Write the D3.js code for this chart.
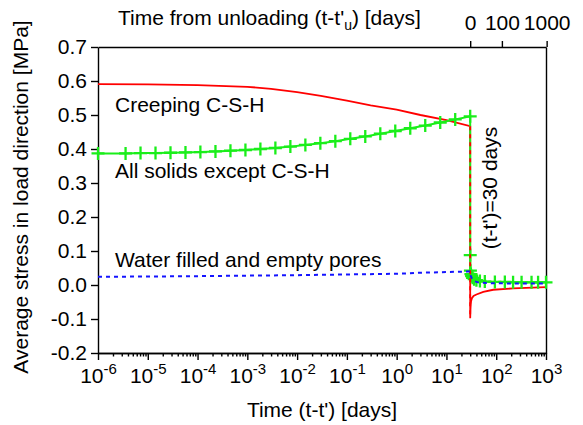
<!DOCTYPE html>
<html>
<head>
<meta charset="utf-8">
<script src="https://cdn.jsdelivr.net/npm/d3@7"></script>
<style>
  body { margin: 0; background: #fff; }
  svg { font-family: "Liberation Sans", Arial, Helvetica, sans-serif; }
</style>
</head>
<body>
<div id="chart"></div>
<script>
// axis ticks
var majorTicks = [1e-6, 1e-5, 1e-4, 1e-3, 1e-2, 1e-1, 1e0, 1e1, 1e2, 1e3];
var exponents = ["-6", "-5", "-4", "-3", "-2", "-1", "0", "1", "2", "3"];
var yTicks = [-0.2, -0.1, 0.0, 0.1, 0.2, 0.3, 0.4, 0.5, 0.6, 0.7];
var topTicks = [0, 100, 1000];   // time from unloading (t-t'u)
var unloadAt = 30;               // (t-t') at unloading, days

// Creeping C-S-H (red)
var redT = [1e-6, 1e-5, 1e-4, 1e-3, 3e-3, 1e-2, 3e-2, 0.1, 0.3, 1, 3, 10, 30];
var redV = [0.591, 0.590, 0.588, 0.583, 0.577, 0.567, 0.556, 0.542, 0.528, 0.516, 0.500, 0.485, 0.467];
var redPostT = [30.01, 30.3, 30.7, 31.3, 32.5, 35, 40, 55, 87, 215, 1000];
var redPostV = [-0.098, -0.075, -0.058, -0.047, -0.039, -0.032, -0.028, -0.020, -0.014, -0.010, -0.006];

// All solids except C-S-H (green, markers)
var greenT = [1e-6, 3.58e-6, 7.15e-6, 1.43e-5, 2.86e-5, 5.72e-5, 1.14e-4, 2.29e-4, 4.58e-4, 9.16e-4,
  1.83e-3, 3.66e-3, 7.32e-3, 1.465e-2, 2.93e-2, 5.86e-2, 0.117, 0.234, 0.469, 0.9375,
  1.875, 3.75, 7.5, 15, 30];
var greenV = [0.387, 0.387, 0.388, 0.388, 0.389, 0.390, 0.391, 0.393, 0.395, 0.397,
  0.400, 0.403, 0.407, 0.412, 0.417, 0.423, 0.430, 0.437, 0.445, 0.453,
  0.461, 0.469, 0.478, 0.487, 0.496];
var greenPostT = [30.05, 30.3, 31, 32, 33.5, 36, 40, 47, 59, 94, 149, 218, 323, 512, 693, 1000];
var greenPostV = [0.088, 0.042, 0.032, 0.026, 0.021, 0.017, 0.014, 0.012, 0.010, 0.009, 0.009, 0.008, 0.008, 0.008, 0.008, 0.008];

// Water filled and empty pores (blue, dashed)
var blueT = [1e-6, 1e-4, 1e-2, 1, 3, 10, 30];
var blueV = [0.024, 0.026, 0.029, 0.033, 0.036, 0.038, 0.040];
var bluePostT = [30.05, 31, 33, 37, 45, 80, 1000];
var bluePostV = [0.035, 0.025, 0.017, 0.011, 0.007, 0.005, 0.004];

var width = 583, height = 425;
var margin = {top: 47, right: 37, bottom: 72, left: 98};

var svg = d3.select("#chart").append("svg")
    .attr("width", width)
    .attr("height", height);

var x = d3.scaleLog()
    .domain([1e-6, 1e3])
    .range([margin.left, width - margin.right]);
var y = d3.scaleLinear()
    .domain([-0.2, 0.7])
    .range([height - margin.bottom, margin.top]);

var zip = (ts, vs) => ts.map((t, i) => ({t: t, v: vs[i]}));
var red = zip(redT, redV).concat(zip(redPostT, redPostV));
var green = zip(greenT, greenV).concat(zip(greenPostT, greenPostV));
var blue = zip(blueT, blueV).concat(zip(bluePostT, bluePostV));

var line = d3.line()
    .x(d => x(d.t))
    .y(d => y(d.v));

// minor ticks of the log axis
var minorTicks = [];
majorTicks.slice(0, -1).forEach(function(m) {
  for (var k = 2; k < 10; k++) minorTicks.push(m * k);
});

function styleAxis(g) {
  g.attr("font-size", 21).attr("font-family", null);
  g.selectAll("line, path").attr("stroke", "#000").attr("stroke-width", 1.4);
  g.selectAll("text").attr("fill", "#000");
}

// left axis
svg.append("g")
    .attr("transform", `translate(${margin.left},0)`)
    .call(d3.axisLeft(y).tickValues(yTicks).tickSize(7).tickSizeOuter(0).tickPadding(4)
      .tickFormat(d => d.toFixed(1)))
    .call(styleAxis);

// right border
svg.append("g")
    .attr("transform", `translate(${width - margin.right},0)`)
    .call(d3.axisRight(y).tickValues([]).tickSizeOuter(0))
    .call(styleAxis);

// bottom axis, minor ticks
svg.append("g")
    .attr("transform", `translate(0,${height - margin.bottom})`)
    .call(d3.axisBottom(x).tickValues(minorTicks).tickSize(3.5).tickSizeOuter(0).tickFormat(""))
    .call(styleAxis);

// bottom axis, major ticks with powers of ten
var bottom = svg.append("g")
    .attr("transform", `translate(0,${height - margin.bottom})`)
    .call(d3.axisBottom(x).tickValues(majorTicks).tickSize(7).tickSizeOuter(0).tickFormat(""))
    .call(styleAxis);

bottom.selectAll(".tick").each(function(d, i) {
  var t = d3.select(this).append("text")
      .attr("y", 30)
      .attr("text-anchor", "middle")
      .attr("fill", "#000");
  t.append("tspan").text("10");
  t.append("tspan").attr("dy", -9).attr("font-size", 15).text(exponents[i]);
});

// top axis: time from unloading
svg.append("g")
    .attr("transform", `translate(0,${margin.top})`)
    .call(d3.axisTop(x).tickValues(topTicks.map(d => d + unloadAt)).tickSize(6).tickSizeOuter(0)
      .tickPadding(11).tickFormat(d => d - unloadAt))
    .call(styleAxis);

// axis titles
svg.append("text")
    .attr("x", (margin.left + width - margin.right) / 2)
    .attr("y", 417)
    .attr("text-anchor", "middle")
    .attr("font-size", 21)
    .text("Time (t-t') [days]");

var topTitle = svg.append("text")
    .attr("x", 118)
    .attr("y", 25)
    .attr("font-size", 21);
topTitle.append("tspan").text("Time from unloading (t-t'");
topTitle.append("tspan").attr("font-size", 14).attr("dy", 5).text("u");
topTitle.append("tspan").attr("dy", -5).text(") [days]");

svg.append("text")
    .attr("transform", `translate(28,${(margin.top + height - margin.bottom) / 2 - 3}) rotate(-90)`)
    .attr("text-anchor", "middle")
    .attr("font-size", 21)
    .text("Average stress in load direction [MPa]");

// series
svg.append("path")
    .datum(red)
    .attr("fill", "none")
    .attr("stroke", "#ff0000")
    .attr("stroke-width", 1.8)
    .attr("d", line);

svg.append("path")
    .datum(green)
    .attr("fill", "none")
    .attr("stroke", "#1aee1a")
    .attr("stroke-width", 2)
    .attr("d", line);

svg.append("g")
  .selectAll("path")
  .data(green)
  .join("path")
    .attr("d", d => `M${x(d.t) - 6.5},${y(d.v)}h13M${x(d.t)},${y(d.v) - 6.5}v13`)
    .attr("stroke", "#1aee1a")
    .attr("stroke-width", 2.3);

// red drop at unloading, drawn dashed over the green one
svg.append("path")
    .datum([red[redT.length - 1], red[redT.length]])
    .attr("fill", "none")
    .attr("stroke", "#ff0000")
    .attr("stroke-width", 1.8)
    .attr("stroke-dasharray", "4,4")
    .attr("d", line);

svg.append("path")
    .datum(blue)
    .attr("fill", "none")
    .attr("stroke", "#1414ff")
    .attr("stroke-width", 2)
    .attr("stroke-dasharray", "4,4")
    .attr("d", line);

// labels
var labels = [
  {text: "Creeping C-S-H", x: 115, y: 112},
  {text: "All solids except C-S-H", x: 115, y: 178},
  {text: "Water filled and empty pores", x: 115, y: 267}
];
svg.append("g")
  .selectAll("text")
  .data(labels)
  .join("text")
    .attr("x", d => d.x)
    .attr("y", d => d.y)
    .attr("font-size", 21)
    .text(d => d.text);

svg.append("text")
    .attr("transform", "translate(497,188) rotate(-90)")
    .attr("text-anchor", "middle")
    .attr("font-size", 21)
    .text("(t-t')=30 days");
</script>
</body>
</html>
